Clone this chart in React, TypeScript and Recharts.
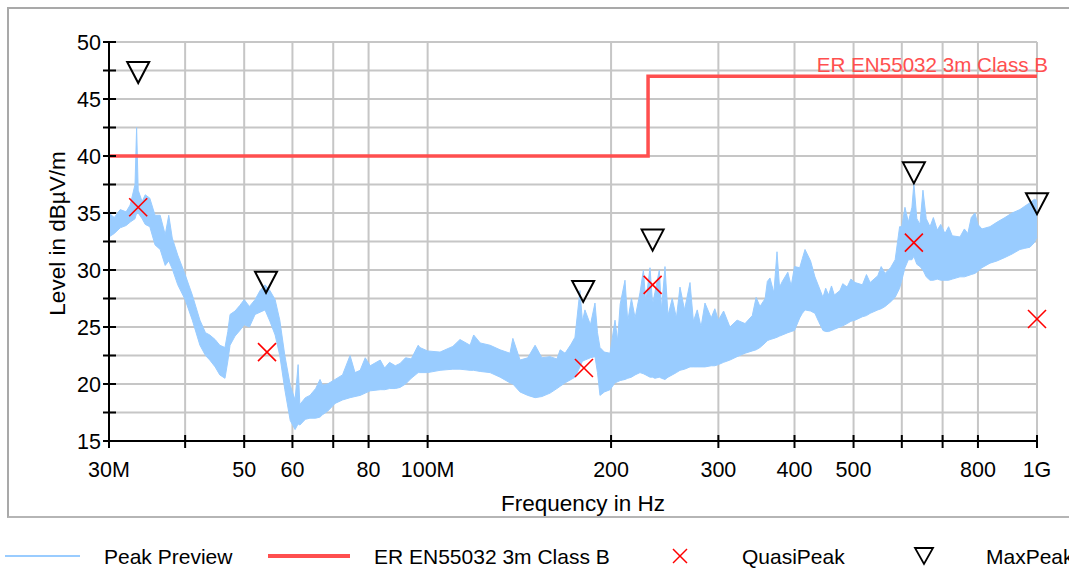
import React from "react";
import {
  ComposedChart,
  Area,
  Line,
  Scatter,
  XAxis,
  YAxis,
  CartesianGrid,
} from "recharts";

// frequency in MHz, levels in dBuV/m
const peakFreq = [
  30.0, 30.6, 31.3, 32.0, 32.5, 33.1, 33.3, 33.5, 34.0, 34.4, 35.0, 35.7, 36.4, 37.1, 37.6, 38.1,
  38.9, 40.0, 41.1, 42.3, 43.2, 43.9, 44.8, 45.6, 46.5, 47.0, 47.4, 48.3, 49.2, 50.0, 51.0, 52.1,
  53.1, 54.1, 55.1, 56.2, 57.2, 58.3, 59.5, 60.6, 61.3, 61.7, 63.0, 64.1, 65.5, 66.6, 67.2, 68.5,
  70.5, 72.5, 74.6, 76.0, 77.5, 79.0, 80.5, 83.6, 85.0, 86.6, 88.5, 90.1, 92.0, 94.0, 96.5, 97.1,
  100.0, 104.8, 110.0, 113.0, 117.4, 119.0, 122.0, 126.6, 131.5, 136.5, 138.0, 141.8, 146.0, 150.1,
  154.0, 158.8, 163.0, 165.0, 168.1, 172.0, 174.5, 177.8, 179.5, 181.2, 185.0, 188.2, 190.0, 191.8,
  195.0, 199.2, 203.0, 205.0, 207.0, 210.8, 213.0, 216.0, 219.0, 223.1, 226.0, 228.0, 231.7, 234.0,
  236.0, 240.0, 242.0, 245.2, 248.0, 252.0, 256.0, 259.5, 264.0, 269.5, 273.0, 277.0, 281.0, 285.2,
  292.0, 296.0, 300.0, 306.0, 313.4, 322.0, 331.8, 341.0, 346.0, 351.1, 358.0, 361.0, 364.6, 370.0,
  374.4, 378.0, 382.0, 390.0, 395.0, 400.0, 408.0, 412.0, 416.2, 425.0, 432.1, 438.0, 445.4, 450.0,
  455.0, 460.0, 465.0, 475.0, 480.0, 488.0, 495.0, 502.8, 517.0, 525.0, 532.3, 548.0, 555.0, 563.2,
  575.0, 585.1, 595.0, 600.0, 607.2, 615.0, 623.4, 628.0, 635.0, 642.6, 649.9, 658.0, 667.5, 676.0,
  686.0, 695.0, 706.3, 716.0, 726.0, 747.5, 760.0, 770.0, 780.0, 791.0, 800.0, 812.0, 837.2, 860.0,
  885.9, 910.0, 937.5, 955.0, 973.8, 990.0, 1000.0,
];
const peakLow = [
  32.9, 33.2, 33.7, 33.9, 34.2, 34.5, 35.0, 35.0, 34.5, 34.0, 33.8, 32.2, 31.8, 30.4, 30.8, 30.1,
  28.7, 27.4, 25.6, 23.4, 22.5, 22.1, 21.5, 20.8, 20.5, 22.0, 23.4, 24.2, 24.7, 25.2, 25.0, 26.1,
  26.3, 26.5, 25.5, 24.3, 22.5, 19.5, 16.8, 16.0, 16.5, 16.4, 16.9, 17.0, 17.0, 17.1, 17.3, 17.6,
  18.3, 18.6, 18.8, 18.9, 19.0, 19.2, 19.4, 19.5, 19.5, 19.6, 19.6, 19.7, 20.0, 20.5, 21.0, 21.0,
  21.0, 21.2, 21.3, 21.3, 21.2, 21.2, 21.1, 21.0, 20.6, 20.1, 20.0, 19.3, 19.0, 18.8,
  18.9, 19.2, 19.6, 19.8, 20.1, 20.4, 20.6, 21.5, 22.0, 22.1, 22.3, 22.4, 21.0, 19.0,
  19.3, 19.5, 20.1, 20.2, 20.3, 20.4, 20.5, 20.6, 20.8, 21.0, 20.9, 20.8, 20.6, 20.6,
  20.5, 20.6, 20.5, 20.4, 20.6, 20.8, 21.0, 21.2, 21.3, 21.5, 21.5, 21.5, 21.5, 21.5,
  21.6, 21.6, 21.7, 21.9, 22.1, 22.4, 22.7, 22.9, 23.0, 23.2, 23.6, 23.8, 23.9, 24.0,
  24.1, 24.2, 24.3, 24.5, 24.6, 24.7, 25.8, 26.2, 26.5, 26.4, 26.2, 25.5, 24.7, 24.6,
  24.6, 24.7, 24.8, 25.0, 25.1, 25.3, 25.5, 25.6, 25.9, 26.0, 26.2, 26.5, 26.6, 26.8,
  27.2, 27.6, 28.4, 29.1, 30.2, 30.9, 30.9, 31.2, 30.5, 30.3, 30.0, 29.4, 29.1, 29.1,
  29.2, 29.1, 29.1, 29.1, 29.2, 29.4, 29.4, 29.5, 29.6, 29.7, 29.9, 30.2, 30.6, 30.8,
  31.1, 31.4, 31.8, 31.9, 32.0, 32.4, 32.9,
];
const peakHigh = [
  35.0, 34.6, 35.3, 35.1, 35.7, 37.5, 42.5, 37.0, 36.0, 36.6, 36.3, 34.8, 34.8, 33.1, 34.8, 32.8,
  31.3, 29.6, 27.8, 25.6, 24.5, 24.3, 23.9, 23.4, 23.2, 24.6, 26.1, 26.4, 26.9, 27.4, 26.8, 27.4,
  28.2, 28.7, 28.2, 27.4, 25.6, 22.5, 19.9, 18.6, 21.7, 18.2, 18.8, 19.0, 19.6, 20.4, 19.9, 20.0,
  20.4, 20.8, 22.5, 21.0, 21.2, 22.3, 21.6, 22.1, 21.4, 21.9, 21.6, 21.8, 22.3, 22.2, 23.4, 23.2,
  22.9, 22.8, 23.3, 23.9, 23.4, 24.3, 23.6, 23.4, 23.0, 22.7, 24.0, 22.1, 22.3, 23.4,
  22.3, 22.4, 22.2, 23.0, 22.7, 23.5, 24.1, 28.2, 25.5, 26.5, 25.2, 27.1, 24.5, 23.2,
  22.8, 22.7, 25.6, 23.8, 27.0, 29.1, 25.5, 27.5, 25.8, 28.0, 30.0, 27.2, 30.2, 27.0,
  28.0, 30.0, 26.5, 30.3, 26.0, 27.5, 25.8, 28.5, 26.5, 28.9, 25.5, 26.5, 25.0, 27.1,
  25.8, 26.6, 25.6, 26.4, 25.0, 25.6, 25.3, 26.0, 27.6, 26.8, 27.5, 29.0, 29.3, 28.0,
  31.6, 28.5, 29.0, 29.8, 28.6, 30.3, 30.2, 31.0, 31.8, 30.8, 29.4, 28.6, 27.6, 28.4,
  27.8, 28.6, 27.8, 28.2, 28.8, 28.5, 29.2, 28.9, 28.7, 29.6, 28.9, 29.5, 30.3, 29.7,
  30.2, 30.9, 33.8, 33.8, 35.5, 34.2, 35.5, 37.6, 34.5, 34.0, 37.0, 34.5, 33.8, 34.6,
  33.5, 34.0, 33.2, 33.8, 33.0, 32.9, 33.6, 33.2, 34.6, 35.0, 34.0, 33.6, 33.8, 34.2,
  34.6, 35.0, 35.3, 35.6, 35.9, 36.2, 36.1,
];

const limitFreq = [30, 230, 230, 1000];
const limitLevel = [40, 40, 47, 47];
const limitName = "ER EN55032 3m Class B";

const qpFreq = [33.5, 54.5, 180.5, 234, 628, 1000];
const qpLevel = [35.5, 22.8, 21.4, 28.7, 32.4, 25.7];

const mpFreq = [33.5, 54.3, 180, 234, 628, 1000];
const mpLevel = [46.4, 28.0, 27.2, 31.7, 37.6, 34.9];

const xTicks = [30, 40, 50, 60, 70, 80, 100, 200, 300, 400, 500, 600, 700, 800, 1000];
const xTickLabels = ["30M", "", "50", "60", "", "80", "100M", "200", "300", "400", "500", "", "", "800", "1G"];
const yTicks = [15, 17.5, 20, 22.5, 25, 27.5, 30, 32.5, 35, 37.5, 40, 42.5, 45, 47.5, 50];

const peakData = peakFreq.map((f, i) => ({ f, range: [peakLow[i], peakHigh[i]] }));
const limitData = limitFreq.map((f, i) => ({ f, v: limitLevel[i] }));
const qpData = qpFreq.map((f, i) => ({ f, v: qpLevel[i] }));
const mpData = mpFreq.map((f, i) => ({ f, v: mpLevel[i] }));

const FONT = "'Liberation Sans', Arial, sans-serif";
const PEAK_COLOR = "#99ccff";
const LIMIT_COLOR = "#ff4f4f";

const XTick = (props: any) => {
  const { x, y, payload } = props;
  const idx = xTicks.indexOf(payload.value);
  const label = idx >= 0 ? xTickLabels[idx] : "";
  return (
    <g>
      <line x1={x} x2={x} y1={y - 6} y2={y + 7} stroke="#000" strokeWidth={2} />
      {label && (
        <text x={x} y={y + 36} textAnchor="middle" fontSize={21.5} fill="#000">
          {label}
        </text>
      )}
    </g>
  );
};

const YTick = (props: any) => {
  const { x, y, payload } = props;
  const v = payload.value;
  return (
    <g>
      <line x1={x - 6} x2={x + 7} y1={y} y2={y} stroke="#000" strokeWidth={2} />
      {v % 5 === 0 && (
        <text x={x - 8} y={y + 8} textAnchor="end" fontSize={21.5} fill="#000">
          {v}
        </text>
      )}
    </g>
  );
};

const Cross = (props: any) => {
  const { cx, cy } = props;
  const s = 9;
  return (
    <g stroke="#ff0000" strokeWidth={1.6}>
      <line x1={cx - s} y1={cy - s} x2={cx + s} y2={cy + s} />
      <line x1={cx - s} y1={cy + s} x2={cx + s} y2={cy - s} />
    </g>
  );
};

const Tri = (props: any) => {
  const { cx, cy } = props;
  return (
    <path
      d={`M${cx - 11},${cy - 21} L${cx + 11},${cy - 21} L${cx},${cy} Z`}
      fill="none"
      stroke="#000"
      strokeWidth={2}
    />
  );
};

const LimitLabel = (props: any) => {
  const { x, y, index } = props;
  if (index !== limitData.length - 1) return null;
  return (
    <text x={x + 11} y={y - 4} textAnchor="end" fontSize={20.6} fill={LIMIT_COLOR}>
      {limitName}
    </text>
  );
};

function ChartLegend() {
  return (
    <svg width={1069} height={30} style={{ position: "absolute", left: 0, top: 541 }}>
      <g fontSize={21} fontFamily={FONT} fill="#000">
        <line x1={5} x2={80} y1={15} y2={15} stroke={PEAK_COLOR} strokeWidth={2} />
        <text x={104} y={23}>Peak Preview</text>
        <line x1={268} x2={350} y1={15} y2={15} stroke={LIMIT_COLOR} strokeWidth={4} />
        <text x={374} y={23}>{limitName}</text>
        <g stroke="#ff0000" strokeWidth={1.5}>
          <line x1={673} y1={8} x2={687} y2={22} />
          <line x1={673} y1={22} x2={687} y2={8} />
        </g>
        <text x={742} y={23}>QuasiPeak</text>
        <path d="M915,7 L933,7 L924,23 Z" fill="none" stroke="#000" strokeWidth={1.8} />
        <text x={986} y={23}>MaxPeak</text>
      </g>
    </svg>
  );
}

export default function App() {
  return (
    <div
      style={{
        position: "relative",
        width: 1069,
        height: 572,
        overflow: "hidden",
        background: "#fff",
        fontFamily: FONT,
      }}
    >
      <style>{"body{margin:0}"}</style>
      <div
        style={{
          position: "absolute",
          left: 7,
          top: 7,
          width: 1062,
          height: 511,
          boxSizing: "border-box",
          borderTop: "2px solid #a9a9a9",
          borderLeft: "2px solid #a9a9a9",
          borderBottom: "2px solid #b5b5b5",
        }}
      />
      <ComposedChart
        width={1061}
        height={510}
        data={peakData}
        margin={{ top: 34, right: 32, bottom: 0, left: 41 }}
        style={{ position: "absolute", left: 8, top: 8, fontFamily: FONT }}
      >
        <CartesianGrid stroke="#c6c6c6" strokeWidth={2} />
        <XAxis
          dataKey="f"
          type="number"
          scale="log"
          domain={[30, 1000]}
          ticks={xTicks}
          interval={0}
          tickSize={0}
          tickMargin={0}
          tick={<XTick />}
          height={77}
          stroke="#000"
          strokeWidth={2}
          label={{
            value: "Frequency in Hz",
            position: "insideBottom",
            offset: 7,
            dx: 10,
            fontSize: 22.5,
            fill: "#000",
          }}
        />
        <YAxis
          type="number"
          domain={[15, 50]}
          ticks={yTicks}
          interval={0}
          tickSize={0}
          tickMargin={0}
          tick={<YTick />}
          width={60}
          stroke="#000"
          strokeWidth={2}
          label={{
            value: "Level in dBµV/m",
            angle: -90,
            position: "insideLeft",
            offset: 8,
            dy: -8,
            fontSize: 22.5,
            fill: "#000",
            style: { textAnchor: "middle" },
          }}
        />
        <Area
          type="linear"
          dataKey="range"
          fill={PEAK_COLOR}
          fillOpacity={1}
          stroke={PEAK_COLOR}
          strokeWidth={1}
          isAnimationActive={false}
        />
        <Line
          data={limitData}
          dataKey="v"
          type="linear"
          stroke={LIMIT_COLOR}
          strokeWidth={3.5}
          dot={false}
          label={<LimitLabel />}
          isAnimationActive={false}
        />
        <Scatter data={qpData} dataKey="v" shape={<Cross />} isAnimationActive={false} />
        <Scatter data={mpData} dataKey="v" shape={<Tri />} isAnimationActive={false} />
      </ComposedChart>
      <ChartLegend />
    </div>
  );
}
